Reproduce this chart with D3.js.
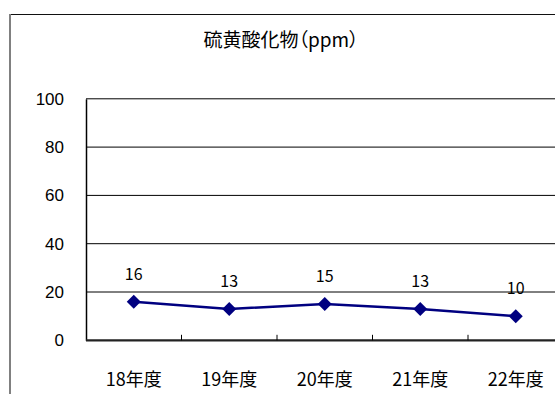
<!DOCTYPE html>
<html>
<head>
<meta charset="utf-8">
<script src="https://cdn.jsdelivr.net/npm/d3@7"></script>
<style>
  html, body { margin: 0; padding: 0; background: #fff; overflow: hidden; }
  svg { display: block; overflow: hidden; }
</style>
</head>
<body>
<svg id="chart" width="555" height="394"></svg>
<script>
// Sulfur oxides, annual averages (ppm)
const categories = ["18年度", "19年度", "20年度", "21年度", "22年度"];
const values = [16, 13, 15, 13, 10];
const yTicks = [0, 20, 40, 60, 80, 100];
const title = "硫黄酸化物（ppm）";

const W = 555, H = 394;
const plot = { left: 86, right: 563.5, top: 98.8, bottom: 340.3 };
const svg = d3.select("#chart");

// frame of the chart area
svg.append("rect").attr("width", W).attr("height", H).attr("fill", "#fff");
svg.append("line").attr("x1", 9).attr("x2", W).attr("y1", 14.5).attr("y2", 14.5)
  .attr("stroke", "#111").attr("stroke-width", 1);
svg.append("line").attr("x1", 10).attr("x2", 10).attr("y1", 14).attr("y2", H)
  .attr("stroke", "#808080").attr("stroke-width", 2);

const x = d3.scaleBand().domain(categories)
  .range([plot.left, plot.right]).paddingInner(0).paddingOuter(0);
const y = d3.scaleLinear().domain([0, 100]).range([plot.bottom, plot.top]);

// title
svg.append("text").attr("x", 281).attr("y", 46.5).attr("text-anchor", "middle")
  .attr("font-family", "'Noto Sans CJK JP', sans-serif").attr("font-size", 19)
  .style("font-feature-settings", "'palt'")
  .attr("fill", "#000").text(title);

// horizontal gridlines
svg.append("g").selectAll("line").data(yTicks.filter(d => d > 0)).join("line")
  .attr("x1", plot.left).attr("x2", W)
  .attr("y1", d => y(d)).attr("y2", d => y(d))
  .attr("stroke", "#000").attr("stroke-width", 1);

// y axis
const yAxis = d3.axisLeft(y).tickValues(yTicks).tickSize(0).tickPadding(22);
const gy = svg.append("g").attr("transform", `translate(${plot.left},0)`).call(yAxis);
gy.select(".domain").attr("stroke", "#000").attr("stroke-width", 1.5);
gy.selectAll("text").attr("font-family", "'Liberation Sans', Arial, sans-serif")
  .attr("font-size", 17).attr("fill", "#000");

// x axis labels; the baseline is drawn separately
const xAxis = d3.axisBottom(x).tickSize(0).tickSizeOuter(0).tickPadding(33);
const gx = svg.append("g").attr("transform", `translate(0,${y(0)})`).call(xAxis);
gx.select(".domain").remove();
gx.selectAll("text").attr("font-family", "'Noto Sans CJK JP', sans-serif")
  .attr("font-size", 18).attr("fill", "#000");
svg.append("line").attr("x1", plot.left).attr("x2", W)
  .attr("y1", y(0)).attr("y2", y(0))
  .attr("stroke", "#222").attr("stroke-width", 2.2);
svg.append("g").selectAll("line").data(categories.slice(1)).join("line")
  .attr("x1", d => x(d)).attr("x2", d => x(d))
  .attr("y1", y(0)).attr("y2", y(0) - 5.5)
  .attr("stroke", "#000").attr("stroke-width", 1);

// series line
const cx = d => x(d) + x.bandwidth() / 2;
const pts = categories.map((c, i) => [cx(c), y(values[i])]);
svg.append("path").datum(pts)
  .attr("d", d3.line())
  .attr("fill", "none").attr("stroke", "#000080").attr("stroke-width", 2.5);

// diamond markers
const diamond = d3.symbol().type(d3.symbolSquare).size(98);
svg.append("g").selectAll("path").data(pts).join("path")
  .attr("transform", d => `translate(${d[0]},${d[1]}) rotate(45)`)
  .attr("d", diamond).attr("fill", "#000080");

// value labels
svg.append("g").selectAll("text").data(values).join("text")
  .attr("x", (d, i) => cx(categories[i]))
  .attr("y", d => y(d) - 22)
  .attr("text-anchor", "middle")
  .attr("font-family", "'Noto Sans CJK JP', sans-serif").attr("font-size", 16)
  .attr("fill", "#000").text(d => d);
</script>
</body>
</html>
